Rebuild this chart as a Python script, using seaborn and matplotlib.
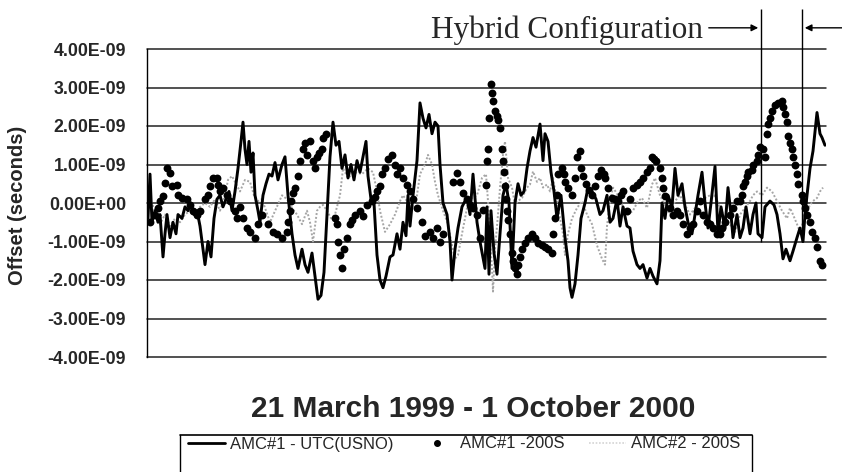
import numpy as np
import matplotlib
matplotlib.use("Agg")
import matplotlib.pyplot as plt
from matplotlib.lines import Line2D
import seaborn as sns

# positions along the 21 Mar 1999 - 1 Oct 2000 axis, offsets in ns
x_utc = [148, 150, 152, 155, 158, 160, 163, 165, 167, 170,
         173, 176, 178, 182, 185, 188, 191, 194, 197, 200,
         203, 205, 208, 211, 214, 217, 220, 223, 226, 229,
         232, 235, 238, 241, 243, 245, 247, 249, 251, 253,
         255, 258, 260, 263, 266, 269, 272, 275, 278, 282,
         285, 288, 292, 295, 298, 302, 305, 308, 312, 315,
         318, 321, 324, 327, 330, 333, 336, 339, 342, 345,
         348, 351, 354, 357, 360, 363, 366, 368, 371, 374,
         377, 380, 383, 386, 390, 393, 397, 400, 403, 406,
         408, 410, 413, 417, 420, 423, 426, 429, 432, 435,
         438, 440, 443, 447, 450, 452, 455, 458, 462, 467,
         470, 473, 477, 480, 485, 487, 489, 491, 494, 497,
         500, 503, 506, 509, 512, 515, 518, 521, 524, 527,
         530, 533, 536, 540, 543, 545, 548, 551, 554, 557,
         561, 565, 568, 570, 572, 575, 578, 581, 585, 588,
         592, 596, 600, 603, 607, 610, 613, 617, 620, 623,
         627, 630, 633, 637, 640, 643, 647, 650, 653, 657,
         660, 662, 665, 668, 672, 675, 678, 682, 685, 688,
         692, 695, 698, 702, 705, 708, 711, 715, 718, 721,
         725, 728, 731, 733, 737, 740, 743, 746, 750, 753,
         756, 758, 762, 765, 770, 774, 777, 780, 783, 786,
         790, 793, 797, 800, 803, 805, 807, 810, 813, 817,
         820, 822, 825]
v_utc = [-0.4, 0.75, -0.5, -0.2, -0.5, -0.3, -1.4, -0.8, -0.3, -0.9,
         -0.5, -0.8, -0.3, -0.4, -0.1, -0.2, 0.0, -0.3, -0.2, -0.6,
         -1.2, -1.6, -1.0, -1.4, -0.4, 0.1, 0.2, -0.1, 0.1, 0.3,
         -0.2, 0.3, 0.9, 1.6, 2.1, 1.4, 1.0, 1.6, 0.8, 1.3,
         0.2, -0.2, -0.5, 0.2, 0.5, 0.75, 0.7, 1.05, 0.6, 1.0,
         1.2, 0.2, -0.8, -1.35, -1.7, -1.2, -1.6, -1.8, -1.3, -1.9,
         -2.5, -2.4, -1.8, -0.3, 1.2, 2.1, 1.5, 1.6, 0.9, 1.25,
         0.65, 1.0, 0.6, 1.1, 0.8, 1.2, 1.6, 0.7, 0.1, 0.0,
         -1.35, -2.0, -2.2, -1.9, -1.4, -1.35, -0.8, -1.2, -0.5, -0.85,
         0.2, -0.6, 0.2, 1.1, 2.6, 2.2, 1.95, 2.3, 1.8, 2.1,
         2.0, 1.0, 0.0, -0.3, -1.0, -2.0, -1.2, -0.65, -0.1, 0.15,
         -0.3, 0.75, -0.5, -1.0, -1.7, -0.1, -1.85, -0.2, -1.3, -1.85,
         -0.8, 0.2, 0.5, 0.0, -1.7, 0.0, 0.5, 0.2, 0.3, 0.9,
         1.35, 1.7, 1.45, 2.05, 1.1, 1.8, 1.6, 0.8, 0.3, -0.4,
         0.2, -0.9, -1.5, -2.2, -2.45, -2.1, -1.35, -0.4, 0.0, 0.4,
         0.3, 0.1, -0.3, -0.2, 0.2, -0.5, -0.4, 0.1, -0.6, -0.1,
         -0.6, -0.65, -1.25, -1.6, -1.7, -1.6, -1.95, -1.7, -1.9, -2.1,
         -1.5, 0.0, -0.4, 0.2, -0.1, 0.9, 0.2, 0.5, -0.1, -0.5,
         -0.8, -0.3, 0.2, 0.8, 0.0, -0.65, 0.0, 0.95, -0.8, -0.1,
         -0.65, 0.4, -0.3, -0.9, -0.3, -0.9, -0.65, -0.1, -0.8, -0.3,
         0.0, -0.8, -0.9, -0.1, 0.05, -0.05, -0.3, -0.8, -1.45, -1.2,
         -1.5, -1.25, -0.9, -0.65, -1.0, -0.3, 0.2, 0.9, 1.35, 2.35,
         1.8, 1.7, 1.5]

x_dots = [150, 155, 158, 160, 163, 165, 167, 170, 172, 177,
          178, 182, 187, 190, 193, 197, 200, 205, 208, 210,
          213, 217, 218, 220, 223, 227, 230, 235, 237, 240,
          243, 247, 250, 255, 258, 262, 268, 273, 277, 282,
          287, 288, 290, 291, 293, 295, 298, 300, 303, 305,
          307, 310, 313, 315, 317, 319, 322, 323, 326, 335,
          337, 338, 340, 342, 344, 347, 350, 352, 355, 360,
          363, 367, 372, 375, 377, 380, 382, 385, 388, 392,
          395, 397, 400, 403, 407, 410, 413, 417, 422, 425,
          430, 433, 437, 440, 443, 453, 457, 460, 463, 467,
          470, 473, 477, 480, 483, 486, 487, 488, 489, 491,
          492, 493, 495, 497, 498, 500, 502, 503, 504, 505,
          506, 507, 508, 510, 512, 513, 515, 517, 518, 520,
          522, 525, 528, 532, 535, 538, 542, 545, 548, 552,
          553, 555, 557, 558, 562, 564, 565, 568, 572, 575,
          577, 580, 581, 583, 586, 589, 592, 595, 598, 601,
          604, 605, 608, 612, 615, 618, 621, 623, 627, 630,
          633, 637, 640, 643, 647, 650, 652, 654, 656, 660,
          662, 663, 665, 670, 673, 677, 680, 683, 687, 690,
          693, 697, 700, 703, 707, 710, 713, 717, 720, 722,
          725, 730, 733, 737, 740, 742, 743, 745, 747, 748,
          752, 753, 757, 758, 760, 763, 765, 767, 768, 770,
          772, 775, 778, 782, 783, 785, 787, 788, 790, 792,
          793, 795, 797, 798, 802, 803, 805, 807, 810, 812,
          815, 817, 820, 822]
v_dots = [-0.5, -0.3, -0.13, 0.05, 0.17, 0.52, 0.9, 0.78, 0.43, 0.48,
          0.2, 0.13, 0.1, -0.05, -0.2, -0.3, -0.2, 0.1, 0.2, 0.45,
          0.65, 0.65, 0.48, 0.3, 0.4, 0.2, 0.05, -0.2, -0.4, -0.1,
          -0.4, -0.65, -0.75, -0.9, -0.55, -0.3, -0.55, -0.75, -0.8, -0.9,
          -0.75, -0.5, -0.2, 0.05, 0.25, 0.4, 0.7, 1.1, 1.4, 1.55,
          1.25, 1.6, 1.1, 0.9, 1.2, 1.3, 1.4, 1.7, 1.8, -0.4,
          -0.55, -1.0, -1.35, -1.7, -1.2, -0.9, -0.55, -0.45, -0.3, -0.2,
          -0.35, -0.05, 0.05, 0.15, 0.3, 0.45, 0.75, 0.9, 1.15, 1.25,
          1.0, 0.75, 0.9, 0.65, 0.48, 0.3, 0.1, -0.13, -0.5, -0.85,
          -0.75, -0.9, -0.65, -1.0, -0.8, 0.55, 0.78, 0.55, 0.25, 0.1,
          -0.05, -0.13, -0.3, -0.9, -0.17, 0.48, 1.1, 1.4, 2.2, 3.1,
          2.85, 2.65, 2.4, 2.25, 2.15, 1.95, 1.4, 1.1, 0.8, 0.45,
          0.1, -0.2, -0.45, -0.8, -1.3, -1.5, -1.7, -1.85, -1.6, -1.4,
          -1.2, -1.05, -0.9, -0.8, -0.9, -1.05, -1.1, -1.15, -1.2, -1.3,
          -0.8, -0.4, 0.2, 0.75, 0.9, 0.75, 0.55, 0.4, 0.2, 0.65,
          1.2, 1.35, 0.9, 0.7, 0.5, 0.35, 0.2, 0.45, 0.7, 0.85,
          0.75, 0.65, 0.4, 0.13, 0.1, 0.05, 0.2, 0.3, -0.2, 0.1,
          0.4, 0.48, 0.55, 0.65, 0.8, 0.9, 1.2, 1.15, 1.1, 0.9,
          0.65, 0.4, 0.17, -0.13, -0.3, -0.2, -0.3, -0.55, -0.8, -0.65,
          -0.55, -0.2, 0.05, -0.3, -0.5, -0.55, -0.65, -0.8, -0.8, -0.65,
          -0.5, -0.3, -0.13, 0.05, 0.05, 0.2, 0.45, 0.55, 0.7, 0.8,
          0.85, 1.0, 1.1, 1.25, 1.45, 1.4, 1.2, 1.8, 2.05, 2.2,
          2.4, 2.55, 2.6, 2.65, 2.5, 2.3, 2.1, 1.75, 1.55, 1.4,
          1.2, 1.0, 0.75, 0.5, 0.2, 0.05, -0.13, -0.3, -0.5, -0.75,
          -0.9, -1.15, -1.5, -1.6]

x_amc2 = [148, 152, 156, 160, 165, 170, 175, 180, 185, 190,
          195, 200, 205, 210, 215, 220, 225, 228, 232, 236,
          240, 245, 250, 254, 258, 262, 266, 270, 276, 282,
          287, 292, 297, 302, 307, 310, 313, 317, 320, 323,
          327, 331, 335, 340, 343, 348, 355, 362, 368, 373,
          377, 380, 385, 390, 395, 400, 403, 407, 412, 417,
          420, 425, 428, 432, 435, 438, 443, 448, 452, 455,
          458, 462, 467, 472, 477, 482, 486, 488, 490, 492,
          493, 495, 498, 500, 503, 505, 507, 508, 512, 515,
          518, 522, 527, 530, 533, 537, 540, 543, 547, 550,
          553, 557, 560, 563, 565, 568, 572, 577, 582, 587,
          592, 597, 602, 605, 607, 610, 613, 618, 623, 628,
          633, 638, 642, 647, 652, 655, 660, 665, 670, 675,
          680, 685, 690, 695, 700, 705, 710, 713, 715, 720,
          725, 730, 735, 740, 745, 750, 753, 757, 762, 767,
          772, 777, 782, 787, 790, 793, 797, 800, 803, 807,
          810, 813, 817, 820, 823]
v_amc2 = [-0.1, 0.0, -0.3, -0.55, -0.3, -0.6, -0.4, -0.5, -0.3, -0.2,
          -0.3, -0.1, 0.0, -0.1, 0.1, -0.2, 0.2, 0.6, 0.7, 0.5,
          0.3, 0.6, 0.55, 0.2, 0.05, 0.1, -0.2, -0.5, -0.15, 0.2,
          0.1, -0.13, -0.3, -0.55, -0.2, -0.5, -1.0, -0.2, -0.1, -0.05,
          -0.2, -0.4, -0.3, 0.2, 0.9, 0.65, 0.8, 0.75, 0.9, 0.8,
          0.3, -0.2, -0.75, -0.55, -0.3, 0.05, 0.2, 0.05, -0.13, 0.2,
          0.75, 1.0, 1.25, 1.0, 0.55, 0.2, -0.2, -0.55, -1.1, -1.45,
          -1.35, -0.8, -0.13, 0.13, 0.2, 0.65, 0.75, 0.05, -0.9, -1.7,
          -2.3, -1.2, -0.3, 0.4, 1.25, 1.6, 1.0, 0.65, 0.4, -0.05,
          0.05, 0.13, 0.4, 0.48, 0.82, 0.55, 0.65, 0.4, 0.48, 0.3,
          0.65, 0.05, -0.4, -0.8, -1.35, -0.8, -0.4, -0.13, 0.05, -0.3,
          -0.55, -1.1, -1.45, -1.6, -0.6, 0.05, 0.4, 0.2, -0.1, -0.3,
          -0.2, 0.05, 0.13, -0.13, 0.48, 0.65, 0.2, -0.05, -0.3, 0.05,
          0.2, -0.05, -0.3, -0.13, 0.05, 0.13, 0.2, 0.13, 0.2, -0.13,
          -0.4, -0.55, -0.75, -0.3, -0.13, 0.05, 0.2, 0.3, 0.2, 0.4,
          0.3, 0.05, -0.2, -0.4, -0.13, -0.3, -0.55, -0.75, -0.5, -0.2,
          -0.05, 0.05, 0.13, 0.3, 0.4]

y_ticks_ns = [-4, -3, -2, -1, 0, 1, 2, 3, 4]
hybrid_start, hybrid_end = 761, 802
series_labels = ["AMC#1 - UTC(USNO)", "AMC#1 -200S", "AMC#2 - 200S"]

ns = 1e-9

sns.set_style("white")
plt.rcParams["font.family"] = ["Liberation Sans", "DejaVu Sans"]

W, H = 842, 472
fig = plt.figure(figsize=(W / 100, H / 100), dpi=100)
ax = fig.add_axes([147 / W, 1 - 357 / H, (826 - 147) / W, (357 - 49) / H])

sns.lineplot(x=x_amc2, y=np.array(v_amc2) * ns, ax=ax, color="#a6a6a6",
             linewidth=1.4, linestyle=(0, (1, 1)), sort=False, estimator=None,
             label=series_labels[2])
sns.lineplot(x=x_utc, y=np.array(v_utc) * ns, ax=ax, color="black",
             linewidth=2.1, sort=False, estimator=None, label=series_labels[0])
sns.scatterplot(x=x_dots, y=np.array(v_dots) * ns, ax=ax, color="black",
                s=32, linewidth=0, label=series_labels[1], zorder=3)

ax.set_xlim(147, 826)
ax.set_ylim(-4 * ns, 4 * ns)
ax.set_xticks([])
ax.set_yticks([t * ns for t in y_ticks_ns])
ax.set_yticklabels([f"{t * ns:.2E}" for t in y_ticks_ns],
                   fontsize=12.8, fontweight="bold")
ax.tick_params(axis="y", direction="out", length=8, width=1, pad=7, color="black")
ax.grid(axis="y", color="#222222", linewidth=1.1)
for gl in ax.get_ygridlines():
    gl.set_clip_on(False)
for side in ["top", "right", "bottom"]:
    ax.spines[side].set_visible(False)
ax.spines["left"].set_color("black")
ax.spines["left"].set_linewidth(1)
ax.set_xlabel("")
ax.set_ylabel("")

# hybrid configuration markers
ax.vlines([hybrid_start, hybrid_end], -1.0 * ns, 5.05 * ns, color="black",
          linewidth=1, clip_on=False)
y_arrow = 4.55 * ns
ax.annotate("", xy=(hybrid_start, y_arrow), xytext=(706, y_arrow),
            arrowprops=dict(arrowstyle="-|>", color="black", lw=1, mutation_scale=10),
            annotation_clip=False)
ax.annotate("", xy=(hybrid_end, y_arrow), xytext=(845, y_arrow),
            arrowprops=dict(arrowstyle="-|>", color="black", lw=1, mutation_scale=10),
            annotation_clip=False)
ax.text(703, 4.29 * ns, "Hybrid Configuration", ha="right", va="baseline",
        family="Liberation Serif", fontsize=22.5, clip_on=False)

fig.text(18 / W, 1 - 205 / H, "Offset (seconds)", rotation=90, ha="center",
         va="center", fontsize=14.5, fontweight="bold")
fig.text(473 / W, 1 - 409 / H, "21 March 1999 - 1 October 2000", ha="center",
         va="center", fontsize=21.5, fontweight="bold")

# legend along the bottom edge
handles = [Line2D([], [], color="black", lw=2),
           Line2D([], [], color="black", marker="o", ls="", markersize=4),
           Line2D([], [], color="#d4d4d4", lw=1.2, ls=(0, (1, 1)))]
ax.legend(handles, series_labels, loc="center left", ncol=3, frameon=False,
          bbox_to_anchor=(188 / W, 1 - 444 / H), bbox_transform=fig.transFigure,
          fontsize=12, handlelength=2.2, handletextpad=0.3, columnspacing=1.5,
          borderpad=0, borderaxespad=0)
fig.add_artist(Line2D([180 / W, 752 / W], [1 - 435 / H, 1 - 435 / H],
                      transform=fig.transFigure, color="black", lw=1.2))
for xb in (180, 752):
    fig.add_artist(Line2D([xb / W, xb / W], [1 - 435 / H, 0],
                          transform=fig.transFigure, color="black", lw=1))

fig.savefig("out.png", dpi=100)
